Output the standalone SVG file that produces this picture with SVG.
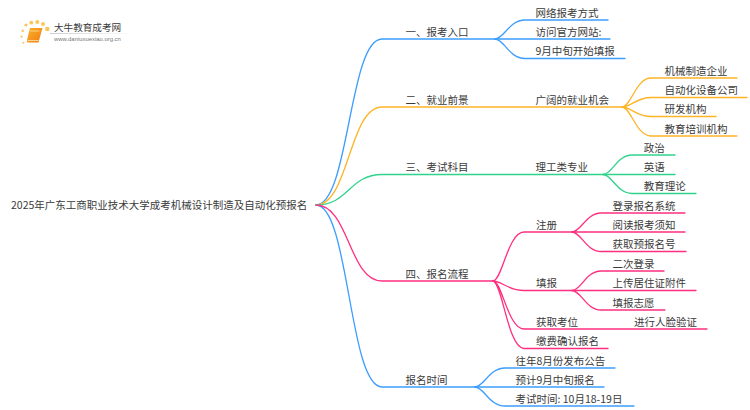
<svg xmlns="http://www.w3.org/2000/svg" width="750" height="410" viewBox="0 0 750 410">
<defs>
<linearGradient id="rule"><stop offset="0" stop-color="#ccc"/><stop offset="1" stop-color="#fff"/></linearGradient>
<linearGradient id="book" x1="0" y1="0" x2="1" y2="1"><stop offset="0" stop-color="#fbb02d"/><stop offset="1" stop-color="#ee7f12"/></linearGradient>
</defs>
<style>
text{font-family:"Noto Sans CJK SC","Noto Sans",sans-serif;font-size:10.5px;fill:#3a3a3a}
path{fill:none;stroke-width:1.3;stroke-linecap:round}
.b path,path.b{stroke:#3c9dff}
.o path,path.o{stroke:#ffb426}
.g path,path.g{stroke:#2fd38c}
.p path,path.p{stroke:#ff2f7f}
.dot{fill:#f9c65a}
</style>
<rect width="750" height="410" fill="#fff"/>
<g id="logo">
<circle class="dot" cx="26" cy="25" r="1.6"/><circle class="dot" cx="31.3" cy="22.700" r="1.9"/><circle class="dot" cx="37.300" cy="22" r="2"/><circle class="dot" cx="43" cy="24" r="2"/><circle class="dot" cx="47.300" cy="29" r="2.300"/><circle class="dot" cx="22.700" cy="30.700" r="1.300"/><circle class="dot" cx="21.500" cy="36.700" r="1.100"/><circle class="dot" cx="23.300" cy="42.700" r="1"/>
<path d="M30 28H42.500L38.500 42.500H28.500Q26.500 42.500 27 40Z" style="fill:url(#book);stroke:none"/>
<path d="M30.500 31H39" style="stroke:#fbd27f;stroke-width:1"/>
<path d="M28 40.500H38" style="stroke:#fde6b8;stroke-width:.8"/>
<rect x="50" y="33" width="83" height="1" fill="url(#rule)"/>
<text x="54" y="31" style="font-size:9.6px">大牛教育成考网</text>
<text x="54" y="41" style="font-size:5.9px;fill:#777;font-family:'Liberation Sans',sans-serif">www.daniuxuexiao.org.cn</text>
</g>
<g id="connectors">
<g class="b">
<path d="M316 205C349 205 349 39 382 39H495"/>
<path d="M495 39C504 39 509 20 525 20H608"/>
<path d="M495 39H610"/>
<path d="M495 39C504 39 509 58.500 525 58.500H625"/>
<path d="M316 205C349 205 349 387 382 387H475"/>
<path d="M475 387C484 387 489 368 505 368H615"/>
<path d="M475 387H604"/>
<path d="M475 387C484 387 489 406 505 406H634"/>
</g>
<g class="o">
<path d="M316 205C349 205 349 107 382 107H622"/>
<path d="M622 107C631 107 636 78 651 78H737"/>
<path d="M622 107C631 107 636 97.500 651 97.500H747"/>
<path d="M622 107C631 107 636 116.500 651 116.500H716"/>
<path d="M622 107C631 107 636 136 651 136H737"/>
</g>
<g class="g">
<path d="M316 205C349 205 349 174.500 382 174.500H603"/>
<path d="M603 174.500C612 174.500 617 155 632 155H675"/>
<path d="M603 174.500H675"/>
<path d="M603 174.500C612 174.500 617 193.500 632 193.500H696"/>
</g>
<g class="p">
<path d="M316 205C349 205 349 281 382 281H493"/>
<path d="M493 281C502 281 508 232 524 232H572"/>
<path d="M493 281C502 281 508 290.500 524 290.500H572"/>
<path d="M493 281C502 281 508 329 524 329H707"/>
<path d="M493 281C502 281 508 348.500 524 348.500H608"/>
<path d="M572 232C581 232 586 213 601 213H685"/>
<path d="M572 232H685"/>
<path d="M572 232C581 232 586 251.500 601 251.500H686"/>
<path d="M572 290.500C581 290.500 586 271 601 271H664"/>
<path d="M572 290.500H696"/>
<path d="M572 290.500C581 290.500 586 310 601 310H665"/>
</g>
</g>
<g id="root"><text x="11" y="209">2025年广东工商职业技术大学成考机械设计制造及自动化预报名</text></g>
<g id="n1"><text x="405.500" y="35.500">一、报考入口</text></g>
<g id="n1-1"><text x="535.500" y="16.500">网络报考方式</text></g>
<g id="n1-2"><text x="535.500" y="35.500">访问官方网站:</text></g>
<g id="n1-3"><text x="535.500" y="55">9月中旬开始填报</text></g>
<g id="n2"><text x="405.500" y="103.500">二、就业前景</text></g>
<g id="n2-1"><text x="535.500" y="103.500">广阔的就业机会</text></g>
<g id="n2-1-1"><text x="664.500" y="74.500">机械制造企业</text></g>
<g id="n2-1-2"><text x="664.500" y="94">自动化设备公司</text></g>
<g id="n2-1-3"><text x="664.500" y="113">研发机构</text></g>
<g id="n2-1-4"><text x="664.500" y="132.500">教育培训机构</text></g>
<g id="n3"><text x="405.500" y="171">三、考试科目</text></g>
<g id="n3-1"><text x="535.500" y="171">理工类专业</text></g>
<g id="n3-1-1"><text x="643.700" y="151.500">政治</text></g>
<g id="n3-1-2"><text x="643.700" y="171">英语</text></g>
<g id="n3-1-3"><text x="643.700" y="190">教育理论</text></g>
<g id="n4"><text x="405.500" y="277.500">四、报名流程</text></g>
<g id="n4-1"><text x="536" y="228.500">注册</text></g>
<g id="n4-1-1"><text x="612.500" y="209.500">登录报名系统</text></g>
<g id="n4-1-2"><text x="612.500" y="228.500">阅读报考须知</text></g>
<g id="n4-1-3"><text x="612.500" y="248">获取预报名号</text></g>
<g id="n4-2"><text x="536" y="287">填报</text></g>
<g id="n4-2-1"><text x="612.500" y="267.500">二次登录</text></g>
<g id="n4-2-2"><text x="612.500" y="287">上传居住证附件</text></g>
<g id="n4-2-3"><text x="612.500" y="306.500">填报志愿</text></g>
<g id="n4-3"><text x="536" y="325.500">获取考位</text></g>
<g id="n4-3-1"><text x="634" y="325.500">进行人脸验证</text></g>
<g id="n4-4"><text x="536" y="345">缴费确认报名</text></g>
<g id="n5"><text x="405.500" y="383.500">报名时间</text></g>
<g id="n5-1"><text x="515.500" y="364.500">往年8月份发布公告</text></g>
<g id="n5-2"><text x="515.500" y="383.500">预计9月中旬报名</text></g>
<g id="n5-3"><text x="515.500" y="402.500">考试时间: 10月18-19日</text></g>
</svg>
